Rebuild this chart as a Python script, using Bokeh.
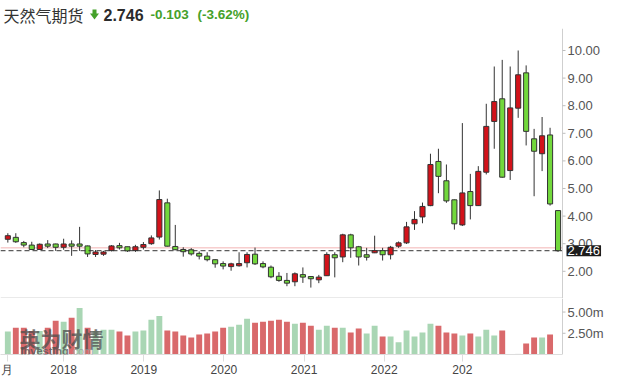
from bokeh.plotting import figure
from bokeh.layouts import column
from bokeh.models import Range1d, FixedTicker, Label, ColumnDataSource
from bokeh.core.properties import value
from bokeh.embed import file_html
from bokeh.resources import INLINE

# ---------------- data ----------------
title_name = "天然气期货"
last_price = 2.746
change = -0.103
change_pct = -3.62
prev_close = 2.849

opens = [3.16, 3.23, 3.04, 2.95, 2.79, 2.99, 2.99, 2.87, 2.99, 2.99,
         2.92, 2.61, 2.62, 2.75, 2.93, 2.89, 2.75, 2.87, 3.00, 3.24,
         4.48, 2.90, 2.79, 2.78, 2.65, 2.55, 2.42, 2.28, 2.17, 2.20,
         2.31, 2.62, 2.28, 2.15, 1.82, 1.67, 1.62, 1.88, 1.81, 1.69,
         1.84, 2.60, 2.52, 3.32, 2.89, 2.60, 2.67, 2.75, 2.60, 2.91,
         3.03, 3.72, 3.97, 4.38, 5.98, 5.28, 4.59, 3.68, 4.89, 4.38,
         5.59, 7.43, 8.25, 5.65, 7.91, 9.19, 6.80, 6.26, 6.94, 4.20]
highs = [3.38, 3.38, 3.10, 3.07, 3.01, 3.13, 3.00, 3.18, 3.12, 3.61,
         2.93, 2.77, 2.74, 2.95, 3.03, 2.89, 2.96, 3.06, 3.30, 4.93,
         4.63, 3.68, 2.87, 2.84, 2.72, 2.69, 2.43, 2.36, 2.31, 2.69,
         2.69, 2.86, 2.36, 2.21, 1.97, 1.94, 1.96, 2.14, 1.82, 1.87,
         2.69, 2.69, 3.36, 3.36, 2.92, 2.85, 3.29, 2.85, 2.92, 3.08,
         3.79, 4.18, 4.49, 6.26, 6.44, 5.87, 4.60, 7.37, 5.53, 5.81,
         8.07, 9.42, 9.66, 9.42, 10.00, 9.46, 7.16, 7.59, 7.20, 4.21]
lows = [3.04, 3.03, 2.87, 2.77, 2.78, 2.84, 2.74, 2.78, 2.56, 2.74,
        2.52, 2.52, 2.56, 2.72, 2.79, 2.70, 2.70, 2.79, 2.96, 3.15,
        2.90, 2.77, 2.53, 2.57, 2.43, 2.36, 2.13, 2.07, 2.02, 2.17,
        2.14, 2.23, 2.11, 1.75, 1.62, 1.46, 1.46, 1.58, 1.41, 1.57,
        1.83, 1.78, 2.33, 2.49, 2.21, 2.39, 2.66, 2.39, 2.43, 2.85,
        2.99, 3.50, 3.74, 4.36, 4.83, 4.48, 3.51, 3.64, 3.88, 4.37,
        5.51, 6.44, 5.39, 5.31, 7.56, 6.56, 4.72, 5.63, 4.38, 2.70]
closes = [3.29, 3.07, 2.95, 2.79, 2.98, 2.91, 2.87, 2.99, 2.91, 2.91,
          2.63, 2.70, 2.70, 2.92, 2.85, 2.74, 2.89, 2.97, 3.21, 4.60,
          2.91, 2.78, 2.71, 2.63, 2.55, 2.42, 2.27, 2.19, 2.27, 2.28,
          2.61, 2.27, 2.16, 1.80, 1.67, 1.57, 1.91, 1.79, 1.73, 1.79,
          2.61, 2.49, 3.32, 2.85, 2.52, 2.51, 2.75, 2.60, 2.87, 3.03,
          3.61, 3.88, 4.35, 5.87, 5.44, 4.55, 3.72, 4.84, 4.38, 5.62,
          7.25, 8.15, 5.41, 7.92, 9.12, 7.07, 6.35, 6.91, 4.44, 2.746]
# volume in millions
volumes = [2.70, 3.16, 3.16, 2.78, 2.78, 3.16, 3.97, 3.86, 4.32, 5.48,
           3.16, 2.78, 2.93, 2.93, 2.70, 2.24, 2.70, 2.82, 4.09, 4.55,
           2.82, 2.70, 2.24, 2.01, 2.35, 2.47, 2.70, 3.16, 3.28, 3.51,
           4.20, 3.74, 3.86, 3.97, 4.09, 3.86, 3.63, 3.74, 3.39, 2.93,
           3.39, 3.16, 3.16, 2.58, 3.05, 2.47, 3.39, 2.12, 2.12, 1.43,
           2.82, 2.12, 2.58, 3.63, 3.39, 2.58, 2.47, 2.24, 2.47, 2.12,
           2.93, 2.24, 2.82, 0.0, 0.08, 1.31, 2.01, 2.01, 2.35, 0.0]
# volume direction as drawn: 1 = up (green), 0 = down (red), -1 = no colour
vol_up = [1, 0, 0, 0, 1, 0, 0, 1, 0, 1,
          0, 1, 1, 1, 0, 0, 1, 1, 1, 1,
          0, 0, 0, 0, 0, 0, 0, 0, 1, 1,
          1, 0, 0, 0, 0, 0, 1, 0, 0, 1,
          1, 0, 1, 0, 0, 1, 1, 0, 1, 1,
          1, 1, 1, 1, 0, 0, 0, 1, 0, 1,
          1, 1, 0, -1, -1, 0, 0, 1, 0, -1]

x_labels = ["月", "2018", "2019", "2020", "2021", "2022", "202"]
x_label_pos = [-0.1, 7, 17.05, 27.1, 37.15, 47.2, 57]
price_ticks = [2, 3, 4, 5, 6, 7, 8, 9, 10]
vol_ticks = [2.5, 5.0]

# ---------------- styles / layout ----------------
RED = "#d3121a"
GREEN = "#72d83c"
VRED = "#d9696b"
VGREEN = "#a9d6b4"
TXT_GREEN = "#45a12a"
AX_FONT = "Liberation Sans"
AX_COLOR = "#cfcfcf"
TICK_COLOR = "#bdbdbd"
LAB_COLOR = "#555555"

X_START = -0.92          # left edge of plot area (category units)
AXIS_X = 69.56           # price axis position (right edge of candle area)
X_END_FULL = 76.08       # right edge of canvas
P_TOP, P_BOT = 10.797, 1.0145
SEP_Y = 1.0326
V_TOP = 6.597

idx = list(range(len(opens)))
up = [c > o for o, c in zip(opens, closes)]
src = ColumnDataSource(dict(
    x=idx, high=highs, low=lows,
    top=[max(o, c) for o, c in zip(opens, closes)],
    bottom=[min(o, c) for o, c in zip(opens, closes)],
    color=[RED if u else GREEN for u in up],
))
vsrc = ColumnDataSource(dict(
    x=idx, v=volumes,
    color=[VGREEN if d == 1 else (VRED if d == 0 else "#e6e6e6") for d in vol_up],
))


def bare(fig):
    fig.grid.visible = False
    fig.outline_line_color = None
    fig.background_fill_color = "white"
    fig.border_fill_color = "white"


def right_axis(fig, ticks, labels, y0, y1):
    fig.segment(x0=[AXIS_X], y0=[y0], x1=[AXIS_X], y1=[y1], line_color=AX_COLOR, line_width=1)
    fig.ray(x=[AXIS_X] * len(ticks), y=ticks, length=3, length_units="screen",
            angle=0, line_color=TICK_COLOR, line_width=1)
    fig.text(x=[AXIS_X] * len(ticks), y=ticks, text=labels,
             x_offset=5, text_baseline="middle", text_align="left",
             text_font=value(AX_FONT), text_font_size="13px", text_color=LAB_COLOR)


# ---------------- title strip ----------------
pt = figure(width=614, height=28, x_range=Range1d(0, 614), y_range=Range1d(28, 0),
            output_backend="svg", toolbar_location=None,
            x_axis_location=None, y_axis_location=None, min_border=0)
bare(pt)
ty = 14
pt.add_layout(Label(x=3, y=ty, x_units="screen", y_units="screen", text=title_name,
                    text_font="Noto Sans CJK SC", text_font_size="16px", text_color="#333333",
                    text_baseline="middle"))
# down-arrow icon (stem + head), pixel-sized decoration
pt.quad(left=[92], right=[96], top=[9], bottom=[13.5], fill_color=TXT_GREEN, line_color=None)
pt.patch(x=[89.5, 98.5, 94], y=[13, 13, 19], fill_color=TXT_GREEN, line_color=None)
pt.add_layout(Label(x=103, y=ty, x_units="screen", y_units="screen", text=f"{last_price:.3f}",
                    text_font=AX_FONT, text_font_style="bold", text_font_size="16px",
                    text_color="#2b2b2b", text_baseline="middle"))
pt.add_layout(Label(x=150, y=ty, x_units="screen", y_units="screen", text=f"{change:.3f}",
                    text_font=AX_FONT, text_font_style="bold", text_font_size="13.5px",
                    text_color=TXT_GREEN, text_baseline="middle"))
pt.add_layout(Label(x=197, y=ty, x_units="screen", y_units="screen", text=f"({change_pct:.2f}%)",
                    text_font=AX_FONT, text_font_style="bold", text_font_size="13.5px",
                    text_color=TXT_GREEN, text_baseline="middle"))

# ---------------- price figure ----------------
p1 = figure(width=614, height=270, x_range=Range1d(X_START, X_END_FULL),
            y_range=Range1d(P_BOT, P_TOP),
            output_backend="svg", toolbar_location=None,
            x_axis_location=None, y_axis_location=None, min_border=0)
bare(p1)

# reference lines (previous close, last price) and panel separator
p1.segment(x0=[X_START], y0=[prev_close], x1=[AXIS_X], y1=[prev_close],
           line_color="#f2b3b3", line_width=1)
p1.segment(x0=[X_START], y0=[SEP_Y], x1=[AXIS_X], y1=[SEP_Y],
           line_color="#d4d4d4", line_width=1)

# candles
p1.segment(x0="x", y0="low", x1="x", y1="high", source=src, line_color="#333333", line_width=1)
p1.vbar(x="x", top="top", bottom="bottom", width=0.64, source=src,
        fill_color="color", line_color="#333333", line_width=1)

p1.segment(x0=[X_START], y0=[last_price], x1=[AXIS_X], y1=[last_price],
           line_color="#333333", line_width=1, line_dash="5 3")

right_axis(p1, price_ticks, [f"{t:.2f}" for t in price_ticks], P_BOT, P_TOP)
p1.add_layout(Label(x=AXIS_X, y=last_price, x_offset=4,
                    text=f"{last_price:.3f}", text_color="white", text_font=AX_FONT,
                    text_font_size="13px", text_baseline="middle", text_align="left",
                    background_fill_color="#1c1c1c", padding=1))

# ---------------- volume figure ----------------
p2 = figure(width=614, height=81, x_range=Range1d(X_START, X_END_FULL),
            y_range=Range1d(0, V_TOP),
            output_backend="svg", toolbar_location=None, y_axis_location=None,
            min_border_left=0, min_border_right=0, min_border_top=0, min_border_bottom=24)
bare(p2)

p2.vbar(x="x", top="v", bottom=0, width=0.74, source=vsrc, fill_color="color", line_color=None)
right_axis(p2, vol_ticks, [f"{t:.2f}m" for t in vol_ticks], 0, V_TOP)

xa = p2.xaxis[0]
xa.bounds = (X_START, AXIS_X)
xa.ticker = FixedTicker(ticks=x_label_pos)
xa.major_label_overrides = {pos: lab for pos, lab in zip(x_label_pos, x_labels)}
xa.axis_line_color = "#dddddd"
xa.major_tick_line_color = "#dddddd"
xa.major_tick_in = 0
xa.major_tick_out = 7
xa.minor_tick_line_color = None
xa.major_label_standoff = 1
xa.major_label_text_font = AX_FONT
xa.major_label_text_font_size = "12px"
xa.major_label_text_color = "#444444"

# watermark
p2.add_layout(Label(x=19, y=17, x_units="screen", y_units="screen", text="英为财情",
                    text_font="Noto Sans CJK SC", text_font_style="bold", text_font_size="21px",
                    text_color="#4d4d4d", text_alpha=0.75, text_baseline="middle"))
p2.add_layout(Label(x=20, y=4, x_units="screen", y_units="screen", text="Investing",
                    text_font=AX_FONT, text_font_style="bold", text_font_size="11px",
                    text_color="#555555", text_alpha=0.8, text_baseline="middle"))
p2.add_layout(Label(x=69, y=4, x_units="screen", y_units="screen", text=".com",
                    text_font=AX_FONT, text_font_size="11px",
                    text_color="#9a9a9a", text_alpha=0.8, text_baseline="middle"))

layout = column(pt, p1, p2, spacing=0)

open("out.html", "w").write(file_html(layout, INLINE))
